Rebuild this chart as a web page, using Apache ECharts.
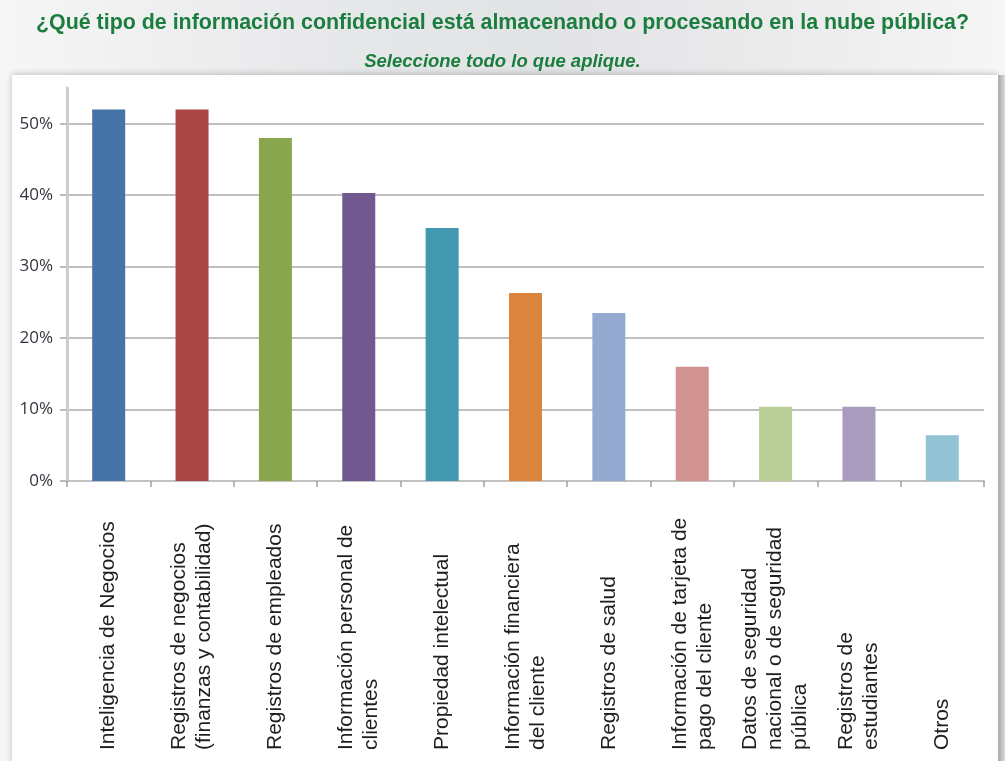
<!DOCTYPE html>
<html lang="es">
<head>
<meta charset="utf-8">
<title>Información confidencial en la nube pública</title>
<script src="https://cdn.jsdelivr.net/npm/echarts@6/dist/echarts.min.js"></script>
<style>
  html, body { margin: 0; padding: 0; }
  #page {
    position: relative; width: 1005px; height: 761px; overflow: hidden;
    background: linear-gradient(to right, #f6f6f6 0%, #e6e7e9 35%, #e2e3e5 55%, #eeeeef 85%, #f6f6f6 100%);
  }
  #sheet {
    position: absolute; left: 12px; top: 75px; width: 986px; height: 700px;
    background: #ffffff; box-shadow: 0 -1px 6px rgba(0,0,0,0.22);
  }
  #edge {
    position: absolute; left: 998px; top: 75px; width: 7px; height: 700px;
    background: linear-gradient(to right, #a9a9a9, #c4c4c4 60%, #dcdcdc);
  }
  #chart { position: absolute; left: 0; top: 0; width: 1005px; height: 761px; }
</style>
</head>
<body>
<div id="page">
  <div id="sheet"></div>
  <div id="edge"></div>
  <div id="chart"></div>
</div>
<script>
// Categories (axis labels, line breaks as printed)
const categories = [
  'Inteligencia de Negocios',
  'Registros de negocios\n(finanzas y contabilidad)',
  'Registros de empleados',
  'Información personal de\nclientes',
  'Propiedad intelectual',
  'Información financiera\ndel cliente',
  'Registros de salud',
  'Información de tarjeta de\npago del cliente',
  'Datos de seguridad\nnacional o de seguridad\npública',
  'Registros de\nestudiantes',
  'Otros'
];

// Share of respondents (%)
const shares = [52, 52, 48, 40.3, 35.4, 26.3, 23.5, 16, 10.4, 10.4, 6.4];

// One colour per bar
const barColors = [
  '#4572a7', '#aa4643', '#89a54e', '#71588f', '#4198af', '#db843d',
  '#93a9cf', '#d19392', '#b9cd96', '#a99bbd', '#92c3d4'
];

// Value-axis ticks
const yTicks = [0, 10, 20, 30, 40, 50];

const titleText = '¿Qué tipo de información confidencial está almacenando o procesando en la nube pública?';
const subtitleText = 'Seleccione todo lo que aplique.';

const chart = echarts.init(document.getElementById('chart'), null, { renderer: 'canvas' });

chart.setOption({
  backgroundColor: 'transparent',
  animation: false,
  title: [
    {
      text: titleText,
      left: 'center', top: 8,
      textStyle: { fontFamily: 'Liberation Sans, Arial, sans-serif', fontWeight: 'bold', fontSize: 21.4, color: '#1b7d3e' }
    },
    {
      text: subtitleText,
      left: 'center', top: 47,
      textStyle: { fontFamily: 'Liberation Sans, Arial, sans-serif', fontWeight: 'bold', fontStyle: 'italic', fontSize: 18.5, color: '#1b7d3e' }
    }
  ],
  grid: { left: 67, right: 21, top: 88, bottom: 280, containLabel: false },
  xAxis: {
    type: 'category',
    data: categories,
    axisLine: { lineStyle: { color: '#c2c2c2', width: 2 } },
    axisTick: { show: true, length: 6, lineStyle: { color: '#a0a0a0', width: 1.5 } },
    axisLabel: {
      interval: 0,
      rotate: 90,
      align: 'left',
      verticalAlign: 'middle',
      margin: 269,
      fontFamily: 'Liberation Sans, Arial, sans-serif',
      fontSize: 21,
      lineHeight: 25,
      color: '#1e1e1e'
    }
  },
  yAxis: {
    type: 'value',
    min: 0, max: 55, interval: 10,
    axisLine: { show: true, lineStyle: { color: '#cccccc', width: 3 } },
    axisTick: { show: true, length: 7, customValues: yTicks, lineStyle: { color: '#bdbdbd', width: 2 } },
    axisLabel: {
      customValues: yTicks,
      margin: 14,
      formatter: v => v + '%',
      fontFamily: 'Open Sans, sans-serif',
      fontSize: 17,
      color: '#34343f'
    },
    splitLine: { show: true, lineStyle: { color: '#c0c0c0', width: 2 } }
  },
  series: [{
    type: 'bar',
    barWidth: 33,
    data: shares.map((v, i) => ({ value: v, itemStyle: { color: barColors[i] } }))
  }]
});
</script>
</body>
</html>
